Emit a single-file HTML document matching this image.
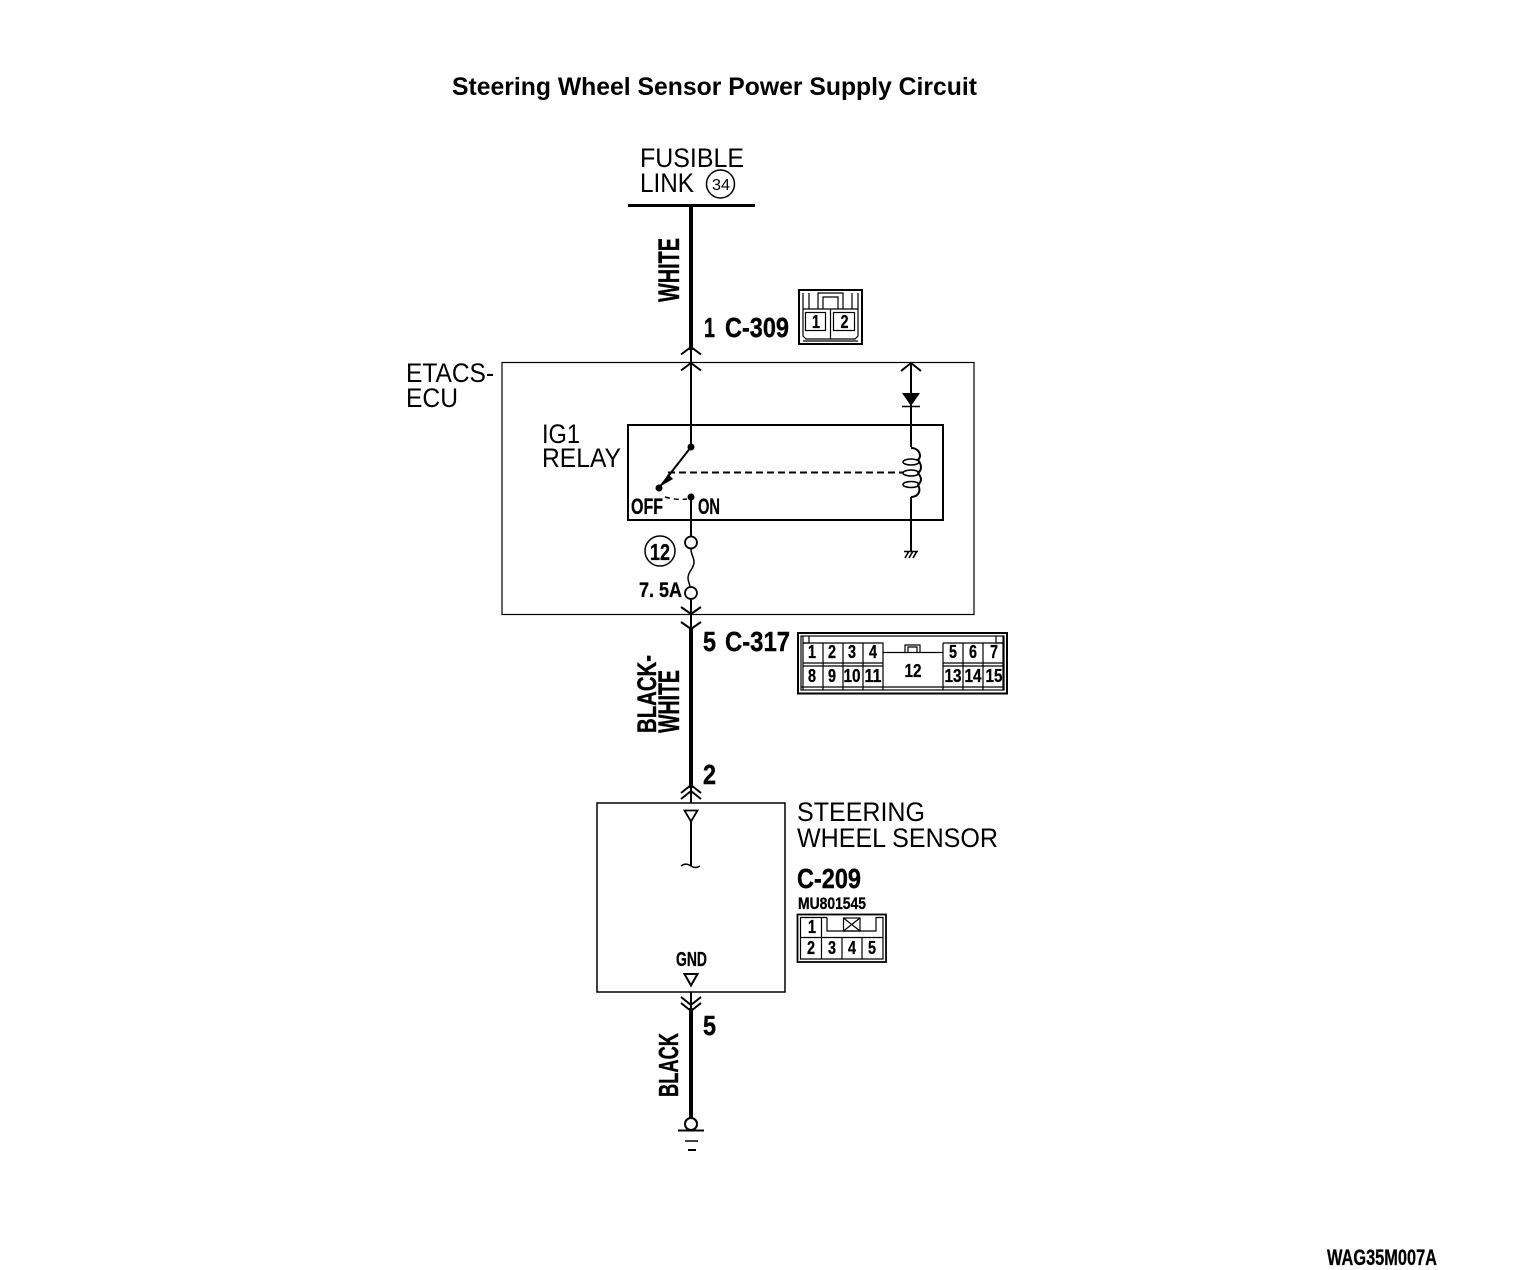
<!DOCTYPE html>
<html><head><meta charset="utf-8"><style>
html,body{margin:0;padding:0;background:#fff}
svg{display:block}
text{font-family:"Liberation Sans",sans-serif;fill:#000}
.n{font-size:27px}
.t{font-weight:bold;font-size:25px}
.b{font-weight:bold;font-size:28px;stroke:#000;stroke-width:.4px}
.m{font-weight:bold;font-size:18px;stroke:#000;stroke-width:.3px}
.c{text-anchor:middle}
</style></head><body>
<svg width="1536" height="1270" viewBox="0 0 1536 1270" xmlns="http://www.w3.org/2000/svg">
<g fill="none" stroke="#000" stroke-linecap="butt">
<!-- top bar and wires -->
<path d="M628 205.500H755" stroke-width="3"/>
<path d="M691 205V350M691 628V788M691 1008V1119" stroke-width="4"/>
<path d="M691 350V448M691 497V536M691 599V628M691 785V803M691 992V1008" stroke-width="2"/>
<!-- chevrons -->
<path d="M681 354.500L691 347L701 354.500M681 370.500L691 363L701 370.500" stroke-width="2"/>
<path d="M681 607L691 614L701 607M681 622L691 629L701 622" stroke-width="2"/>
<path d="M681 793L691 785L701 793M681 799L691 791L701 799" stroke-width="2"/>
<path d="M681 997L691 1005L701 997M681 1003L691 1011L701 1003" stroke-width="2"/>
<!-- ETACS box -->
<rect x="502" y="362.500" width="472" height="252" stroke-width="1.200"/>
<!-- relay -->
<rect x="628" y="425" width="315" height="95" stroke-width="2"/>
<path d="M691 447L659 488" stroke-width="2"/>
<path d="M668 472.500H903" stroke-width="2" stroke-dasharray="7 4"/>
<path d="M665 497C672 499 678 500 687 499" stroke-width="1.500" stroke-dasharray="5 4"/>
<!-- right wire -->
<path d="M911 364V447M911 497V552" stroke-width="2"/>
<path d="M901 371L911 363L921 371" stroke-width="2"/>
<path d="M902 406.500H920" stroke-width="1.500"/>
<path d="M911 448C917 448 920 452 920 456C920 458 919 459 918 460C922 465 922 470 918 473C922 478 922 481 918 485C922 492 917 497 911 497" stroke-width="2"/>
<ellipse cx="911" cy="462" rx="8" ry="3" stroke-width="1.500"/>
<ellipse cx="911" cy="473" rx="8" ry="3" stroke-width="1.500"/>
<ellipse cx="911" cy="484.500" rx="8" ry="3" stroke-width="1.500"/>
<path d="M905 558L909 551M909 558L913 551M913 558L917 551M904 551.500H918" stroke-width="1.600"/>
<!-- fuse -->
<circle cx="691" cy="542.500" r="6" stroke-width="1.800"/>
<circle cx="691" cy="593" r="6" stroke-width="1.800"/>
<path d="M691 549C691 555 694 557 694 562C694 569 688 571 688 578C688 582 690 584 690 587" stroke-width="1.500"/>
<circle cx="660" cy="551" r="15" stroke-width="1.500"/>
<circle cx="720.500" cy="184" r="14" stroke-width="1.500"/>
<!-- sensor box -->
<rect x="597" y="803" width="188" height="189" stroke-width="1.500"/>
<path d="M684.500 810.500H697.500L691 821.500Z" stroke-width="1.800"/>
<path d="M691 821V866" stroke-width="2"/>
<path d="M681 866C685 863 688 864 691 866C694 868 697 868 700 866" stroke-width="1.500"/>
<path d="M684.500 974H697.500L691 985.500Z" stroke-width="2"/>
<!-- ground -->
<circle cx="691" cy="1124" r="6" stroke-width="2"/>
<path d="M678 1130.500H704" stroke-width="2"/>
<path d="M685 1141H698" stroke-width="1.500"/>
<path d="M688 1150H696" stroke-width="2"/>
<!-- C-309 connector -->
<g stroke-width="1.200">
<rect x="799" y="290" width="63" height="54" stroke-width="2"/>
<path d="M803 293V336L806 339H855L858 336V293"/>
<path d="M803 341H858"/>
<path d="M809 293V309M818 309V293H843V309M823 309V297H838V309M852 309V293"/>
<path d="M803 309H858M830.500 309V339"/>
<rect x="805.500" y="312.500" width="20" height="18"/>
<rect x="833.500" y="312.500" width="21" height="18"/>
</g>
<!-- C-317 connector -->
<g stroke-width="1.200">
<rect x="798" y="633" width="209" height="60.500" stroke-width="2"/>
<rect x="801" y="636" width="203" height="54"/>
<path d="M803 636V643H809V636M996 636V643H1003V636"/>
<path d="M803 643H883V690M803 643V690M823 643V690M843 643V690M863 643V690"/>
<path d="M943 643H1003V690M943 643V690M963 643V690M983 643V690"/>
<path d="M803 663H883M943 663H1003M803 666H883M943 666H1003"/>
<path d="M801 687H1004"/>
<path d="M883 652.500H943"/>
<path d="M905 652V645H920V652M908 652V647H917V652"/>
</g>
<!-- C-209 connector -->
<g stroke-width="1.200">
<rect x="797.500" y="914.500" width="88.500" height="47.500" stroke-width="1.800"/>
<path d="M827 917.500H800.500V959H883V917.500H876V931H827V917.500"/>
<path d="M800 937.500H883M821.500 917V959M842 937V959M862 937V959"/>
<rect x="843.500" y="918" width="16.500" height="13"/>
<path d="M843.500 918L860 931M860 918L843.500 931"/>
</g>
</g>
<!-- solid shapes -->
<circle cx="691" cy="447" r="3.500"/>
<circle cx="659" cy="488" r="3.500"/>
<circle cx="691" cy="497" r="3.500"/>
<path d="M661 486L668 474L673 479Z"/>
<path d="M902 393H920L911 406Z"/>
<!-- labels -->
<text x="452" y="95" class="t" textLength="525" lengthAdjust="spacingAndGlyphs">Steering Wheel Sensor Power Supply Circuit</text>
<text x="640" y="167" class="n" textLength="104" lengthAdjust="spacingAndGlyphs">FUSIBLE</text>
<text x="640" y="192" class="n" textLength="54" lengthAdjust="spacingAndGlyphs">LINK</text>
<text x="712" y="190" style="font-size:16px" textLength="18" lengthAdjust="spacingAndGlyphs">34</text>
<text x="406" y="382" class="n" textLength="88" lengthAdjust="spacingAndGlyphs">ETACS-</text>
<text x="406" y="407" class="n" textLength="52" lengthAdjust="spacingAndGlyphs">ECU</text>
<text x="542" y="443" class="n" textLength="38" lengthAdjust="spacingAndGlyphs">IG1</text>
<text x="542" y="467" class="n" textLength="79" lengthAdjust="spacingAndGlyphs">RELAY</text>
<text x="797" y="821" class="n" textLength="128" lengthAdjust="spacingAndGlyphs">STEERING</text>
<text x="797" y="847" class="n" textLength="201" lengthAdjust="spacingAndGlyphs">WHEEL SENSOR</text>
<text transform="translate(679,302) rotate(-90)" class="b" style="font-size:30px" textLength="64" lengthAdjust="spacingAndGlyphs">WHITE</text>
<text transform="translate(656,733) rotate(-90)" class="b" style="font-size:27px" textLength="78" lengthAdjust="spacingAndGlyphs">BLACK-</text>
<text transform="translate(679,733) rotate(-90)" class="b" style="font-size:30px" textLength="63" lengthAdjust="spacingAndGlyphs">WHITE</text>
<text transform="translate(678,1097) rotate(-90)" class="b" textLength="64" lengthAdjust="spacingAndGlyphs">BLACK</text>
<text x="704" y="337" class="b" textLength="11" lengthAdjust="spacingAndGlyphs">1</text>
<text x="725" y="337" class="b" textLength="64" lengthAdjust="spacingAndGlyphs">C-309</text>
<text x="703" y="651" class="b" textLength="13" lengthAdjust="spacingAndGlyphs">5</text>
<text x="725" y="651" class="b" textLength="65" lengthAdjust="spacingAndGlyphs">C-317</text>
<text x="703" y="784" class="b" textLength="13" lengthAdjust="spacingAndGlyphs">2</text>
<text x="703" y="1035" class="b" textLength="13" lengthAdjust="spacingAndGlyphs">5</text>
<text x="797" y="888" class="b" textLength="64" lengthAdjust="spacingAndGlyphs">C-209</text>
<text x="798" y="909" class="m" style="font-size:17px" textLength="68" lengthAdjust="spacingAndGlyphs">MU801545</text>
<text x="631" y="514" class="m" style="font-size:22px" textLength="32" lengthAdjust="spacingAndGlyphs">OFF</text>
<text x="698" y="514" class="m" style="font-size:22px" textLength="22" lengthAdjust="spacingAndGlyphs">ON</text>
<text x="639" y="597" class="m" style="font-size:21px" textLength="43" lengthAdjust="spacingAndGlyphs">7. 5A</text>
<text x="650" y="560" class="m" style="font-size:23px" textLength="20" lengthAdjust="spacingAndGlyphs">12</text>
<text x="676" y="966" class="m" style="font-size:20px" textLength="31" lengthAdjust="spacingAndGlyphs">GND</text>
<text x="1327" y="1265" class="m" style="font-size:22px" textLength="110" lengthAdjust="spacingAndGlyphs">WAG35M007A</text>
<!-- connector pins -->
<g>
<text class="m c" x="816" y="328" textLength="8" lengthAdjust="spacingAndGlyphs">1</text><text class="m c" x="844.500" y="328" textLength="8" lengthAdjust="spacingAndGlyphs">2</text>
<text class="m c" x="812" y="658" textLength="8" lengthAdjust="spacingAndGlyphs">1</text><text class="m c" x="832" y="658" textLength="8" lengthAdjust="spacingAndGlyphs">2</text><text class="m c" x="852" y="658" textLength="8" lengthAdjust="spacingAndGlyphs">3</text><text class="m c" x="873" y="658" textLength="8" lengthAdjust="spacingAndGlyphs">4</text>
<text class="m c" x="953" y="658" textLength="8" lengthAdjust="spacingAndGlyphs">5</text><text class="m c" x="973" y="658" textLength="8" lengthAdjust="spacingAndGlyphs">6</text><text class="m c" x="994" y="658" textLength="8" lengthAdjust="spacingAndGlyphs">7</text>
<text class="m c" x="812" y="682" textLength="8" lengthAdjust="spacingAndGlyphs">8</text><text class="m c" x="832" y="682" textLength="8" lengthAdjust="spacingAndGlyphs">9</text>
<text class="m c" x="852" y="682" textLength="17" lengthAdjust="spacingAndGlyphs">10</text><text class="m c" x="873" y="682" textLength="17" lengthAdjust="spacingAndGlyphs">11</text>
<text class="m c" x="913" y="677" textLength="17" lengthAdjust="spacingAndGlyphs">12</text>
<text class="m c" x="953" y="682" textLength="17" lengthAdjust="spacingAndGlyphs">13</text><text class="m c" x="973" y="682" textLength="17" lengthAdjust="spacingAndGlyphs">14</text><text class="m c" x="994" y="682" textLength="17" lengthAdjust="spacingAndGlyphs">15</text>
<text class="m c" x="812" y="933" textLength="8" lengthAdjust="spacingAndGlyphs">1</text>
<text class="m c" x="811" y="954" textLength="8" lengthAdjust="spacingAndGlyphs">2</text><text class="m c" x="832" y="954" textLength="8" lengthAdjust="spacingAndGlyphs">3</text><text class="m c" x="852" y="954" textLength="8" lengthAdjust="spacingAndGlyphs">4</text><text class="m c" x="872" y="954" textLength="8" lengthAdjust="spacingAndGlyphs">5</text>
</g>
</svg>
</body></html>
